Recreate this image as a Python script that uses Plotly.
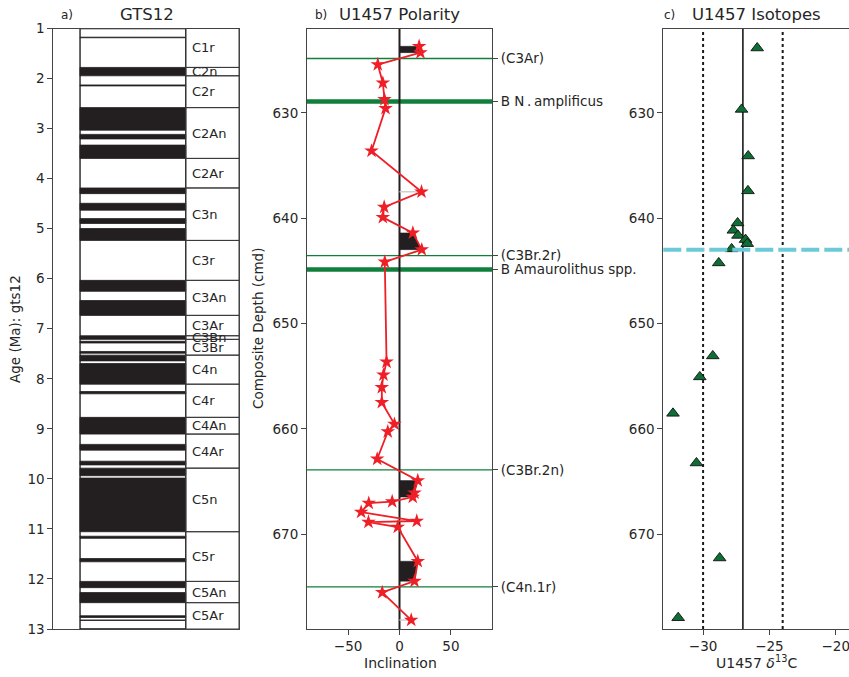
import plotly.graph_objects as go

W, H = 849, 677

# ---------------- data ----------------
# Panel a: GTS2012 geomagnetic polarity timescale (Ma)
AGE_RANGE = [1.0, 13.0]
AGE_TICKS = list(range(1, 14))
NORMAL_TOP = [1.173, 1.778, 2.128, 2.581, 3.116, 3.330, 4.187, 4.493, 4.799, 4.997,
              6.033, 6.436, 7.140, 7.251, 7.454, 7.528, 7.695, 8.254, 8.771, 9.311,
              9.647, 9.786, 9.984, 11.146, 11.592, 12.049, 12.272, 12.735, 12.820]
NORMAL_BASE = [1.185, 1.945, 2.148, 3.032, 3.207, 3.596, 4.300, 4.631, 4.896, 5.235,
               6.252, 6.733, 7.212, 7.285, 7.489, 7.642, 8.108, 8.300, 9.105, 9.426,
               9.721, 9.937, 11.056, 11.188, 11.657, 12.174, 12.474, 12.770, 12.829]
CHRON_NAMES = ["C1r", "C2n", "C2r", "C2An", "C2Ar", "C3n", "C3r", "C3An", "C3Ar", "C3Bn",
               "C3Br", "C4n", "C4r", "C4An", "C4Ar", "C5n", "C5r", "C5An", "C5Ar"]
CHRON_TOP = [0.781, 1.778, 1.945, 2.581, 3.596, 4.187, 5.235, 6.033, 6.733, 7.140,
             7.212, 7.528, 8.108, 8.771, 9.105, 9.786, 11.056, 12.049, 12.474]
CHRON_BASE = [1.778, 1.945, 2.581, 3.596, 4.187, 5.235, 6.033, 6.733, 7.140, 7.212,
              7.528, 8.108, 8.771, 9.105, 9.786, 11.056, 12.049, 12.474, 13.032]

# Panel b: U1457 inclination vs depth
DEPTH_RANGE = [622.0, 679.0]
DEPTH_TICKS = [630, 640, 650, 660, 670]
INC_RANGE = [-90, 90]
INC_TICKS = [-50, 0, 50]
INC_DEPTH = [623.69, 624.29, 625.42, 627.16, 628.73, 629.58, 633.62, 637.50, 638.95, 639.93,
             641.40, 642.99, 644.15, 653.65, 654.88, 656.07, 657.49, 659.55, 660.27, 662.86,
             664.91, 666.07, 666.48, 666.90, 667.05, 667.90, 668.75, 668.85, 669.32, 672.57,
             674.46, 675.53, 678.15]
INC_VALUE = [19.1, 20.4, -21.1, -16.2, -14.6, -13.6, -27.2, 21.4, -14.9, -16.2,
             13.0, 21.7, -14.3, -12.6, -15.6, -17.2, -17.2, -4.9, -11.4, -21.7,
             17.8, 14.6, 12.9, -7.1, -29.9, -37.3, 16.8, -30.2, -1.7, 17.8,
             14.6, -16.8, 11.4]
MAG_EVENTS = ["(C3Ar)", "(C3Br.2r)", "(C3Br.2n)", "(C4n.1r)"]
MAG_EVENT_DEPTH = [624.85, 643.56, 663.9, 675.0]
BIO_EVENTS = ["B N\u2009.\u2009amplificus", "B Amaurolithus spp."]
BIO_EVENT_DEPTH = [628.92, 644.88]

# Panel c: U1457 d13C
ISO_RANGE = [-33, -19]
ISO_TICKS = [-30, -25, -20]
ISO_DEPTH = [623.85, 629.68, 634.10, 637.41, 640.46, 641.16, 641.64, 642.04, 642.42, 642.92,
             644.25, 653.08, 655.07, 658.53, 663.24, 672.26, 677.93]
ISO_VALUE = [-25.92, -27.10, -26.60, -26.62, -27.40, -27.72, -27.37, -26.80, -26.67, -27.85,
             -28.82, -29.27, -30.25, -32.27, -30.50, -28.75, -31.88]
ISO_MEAN = -27.0
ISO_SPREAD = 3.0
ISO_EVENT_DEPTH = 643.0

# ---------------- styling ----------------
FONT = "DejaVu Sans"
TXT = "#262626"
SPINE = "#444444"
GREEN = "#107f3b"
RED = "#ee1f26"
DARK = "#231f20"


def px(x):
    return x / W


def py(y):
    return 1 - y / H


Y_DOM = [py(629), py(28.5)]
XA_DOM = [px(53.3), px(239)]
XB_DOM = [px(307), px(492)]
XC_DOM = [px(663.3), 1.0]

fig = go.Figure()
shapes = []
annotations = []

# ---------------- panel a ----------------
XA0, XA1, XA2 = 0.144, 0.713, 1.0
shapes.append(dict(type="rect", xref="x", yref="y", x0=XA0, x1=XA1,
                   y0=AGE_RANGE[0], y1=AGE_RANGE[1],
                   line=dict(color="#111111", width=1.3), fillcolor="white", layer="below"))
for t, b in zip(NORMAL_TOP, NORMAL_BASE):
    shapes.append(dict(type="rect", xref="x", yref="y", x0=XA0, x1=XA1, y0=t, y1=b,
                       line=dict(color=DARK, width=0.8), fillcolor=DARK))
for n, t, b in zip(CHRON_NAMES, CHRON_TOP, CHRON_BASE):
    tt = max(t, AGE_RANGE[0])
    bb = min(b, AGE_RANGE[1])
    shapes.append(dict(type="rect", xref="x", yref="y", x0=XA1, x1=XA2, y0=tt, y1=bb,
                       line=dict(color="#3a3a3a", width=1), fillcolor="rgba(0,0,0,0)"))
    annotations.append(dict(x=XA1, y=(tt + bb) / 2, xref="x", yref="y", text=n,
                            showarrow=False, xanchor="left", yanchor="middle", xshift=4,
                            font=dict(family=FONT, size=13, color=TXT)))
fig.add_trace(go.Scatter(x=[0.5], y=[5], xaxis="x", yaxis="y", mode="markers",
                         marker=dict(opacity=0), hoverinfo="skip", showlegend=False))

# ---------------- panel b ----------------
for d in MAG_EVENT_DEPTH:
    shapes.append(dict(type="line", xref="x2 domain", yref="y2", x0=0, x1=1, y0=d, y1=d,
                       line=dict(color=GREEN, width=1.4), layer="below"))
for d in BIO_EVENT_DEPTH:
    shapes.append(dict(type="line", xref="x2 domain", yref="y2", x0=0, x1=1, y0=d, y1=d,
                       line=dict(color=GREEN, width=4.5), layer="below"))
shapes.append(dict(type="line", xref="x2", yref="y2 domain", x0=0, x1=0, y0=0, y1=1,
                   line=dict(color=DARK, width=2), layer="below"))

runs = []
cur = []
for d, v in zip(INC_DEPTH, INC_VALUE):
    if v > 0:
        cur.append((d, v))
    else:
        if cur:
            runs.append(cur)
        cur = []
if cur:
    runs.append(cur)
for r in runs:
    if len(r) == 1:
        d, v = r[0]
        fig.add_trace(go.Scatter(x=[0, v], y=[d, d], xaxis="x2", yaxis="y2", mode="lines",
                                 line=dict(color="#cfcfcf", width=1.5),
                                 hoverinfo="skip", showlegend=False))
    else:
        xs = [0] + [v for d, v in r] + [0]
        ys = [r[0][0]] + [d for d, v in r] + [r[-1][0]]
        fig.add_trace(go.Scatter(x=xs, y=ys, xaxis="x2", yaxis="y2", mode="lines",
                                 fill="toself", fillcolor=DARK,
                                 line=dict(color=DARK, width=0.5),
                                 hoverinfo="skip", showlegend=False))

fig.add_trace(go.Scatter(x=INC_VALUE, y=INC_DEPTH, xaxis="x2", yaxis="y2",
                         mode="lines+markers",
                         line=dict(color=RED, width=1.8),
                         marker=dict(symbol="star", size=11, color=RED, line=dict(width=0)),
                         showlegend=False))
ev_depth = MAG_EVENT_DEPTH + BIO_EVENT_DEPTH
ev_name = MAG_EVENTS + BIO_EVENTS
fig.add_trace(go.Scatter(x=[0], y=[650], xaxis="x2", yaxis="y4", mode="markers",
                         marker=dict(opacity=0), hoverinfo="skip", showlegend=False))

# ---------------- panel c ----------------
for xv, dash, w in [(ISO_MEAN, "solid", 1.6),
                    (ISO_MEAN - ISO_SPREAD, "dot", 2),
                    (ISO_MEAN + ISO_SPREAD, "dot", 2)]:
    shapes.append(dict(type="line", xref="x3", yref="y3 domain", x0=xv, x1=xv, y0=0, y1=1,
                       line=dict(color="#1a1a1a", width=w, dash=dash), layer="below"))
fig.add_trace(go.Scatter(x=ISO_VALUE, y=ISO_DEPTH, xaxis="x3", yaxis="y3", mode="markers",
                         marker=dict(symbol="triangle-up", size=11, color="#0e6e35",
                                     line=dict(color="#111111", width=0.9)),
                         showlegend=False))
shapes.append(dict(type="line", xref="x3 domain", yref="y3", x0=0, x1=1,
                   y0=ISO_EVENT_DEPTH, y1=ISO_EVENT_DEPTH,
                   line=dict(color="#6ccad8", width=4, dash="18px,5px"), layer="above"))

# ---------------- titles & labels ----------------
def ann(x, y, text, size, angle=0, xanchor="center"):
    annotations.append(dict(x=px(x), y=py(y), xref="paper", yref="paper", text=text,
                            showarrow=False, xanchor=xanchor, yanchor="middle",
                            textangle=angle, font=dict(family=FONT, size=size, color=TXT)))


ann(147, 14, "GTS12", 16.5)
ann(58.5, 15, "a)", 12, xanchor="left")
ann(399.5, 14, "U1457 Polarity", 16.5)
ann(313, 15, "b)", 12, xanchor="left")
ann(756, 14, "U1457 Isotopes", 16.5)
ann(662, 15, "c)", 12, xanchor="left")
ann(15, 329, "Age (Ma): gts12", 13.5, angle=-90)
ann(258, 329, "Composite Depth (cmd)", 13.5, angle=-90)
ann(400, 663, "Inclination", 14)
ann(756, 662, "U1457 <i>\u03b4</i><sup>13</sup>C", 14)

tickfont = dict(family=FONT, size=13.5, color=TXT)
common = dict(showgrid=False, zeroline=False, showline=True, linecolor=SPINE, linewidth=1,
              ticks="outside", ticklen=5, tickwidth=1, tickcolor=SPINE, tickfont=tickfont,
              automargin=False, ticklabeloverflow="allow")

fig.update_layout(
    width=W, height=H,
    margin=dict(l=0, r=0, t=0, b=0, autoexpand=False),
    paper_bgcolor="white", plot_bgcolor="white",
    showlegend=False,
    shapes=shapes,
    annotations=annotations,
    xaxis=dict(domain=XA_DOM, range=[0, 1], anchor="y", showgrid=False, zeroline=False,
               showline=True, linecolor=SPINE, mirror=True, showticklabels=False, ticks="",
               automargin=False),
    yaxis=dict(domain=Y_DOM, range=[AGE_RANGE[1], AGE_RANGE[0]], anchor="x",
               tickvals=AGE_TICKS, mirror=True, **common),
    xaxis2=dict(domain=XB_DOM, range=INC_RANGE, anchor="y2", tickvals=INC_TICKS,
                mirror=True, **common),
    yaxis2=dict(domain=Y_DOM, range=[DEPTH_RANGE[1], DEPTH_RANGE[0]], anchor="x2",
                tickvals=DEPTH_TICKS, **common),
    yaxis4=dict(range=[DEPTH_RANGE[1], DEPTH_RANGE[0]], anchor="x2", overlaying="y2",
                side="right", tickvals=ev_depth, ticktext=ev_name, **common),
    xaxis3=dict(domain=XC_DOM, range=ISO_RANGE, anchor="y3", tickvals=ISO_TICKS,
                mirror=True, **common),
    yaxis3=dict(domain=Y_DOM, range=[DEPTH_RANGE[1], DEPTH_RANGE[0]], anchor="x3",
                tickvals=DEPTH_TICKS, **common),
)

fig.write_html("out.html")
